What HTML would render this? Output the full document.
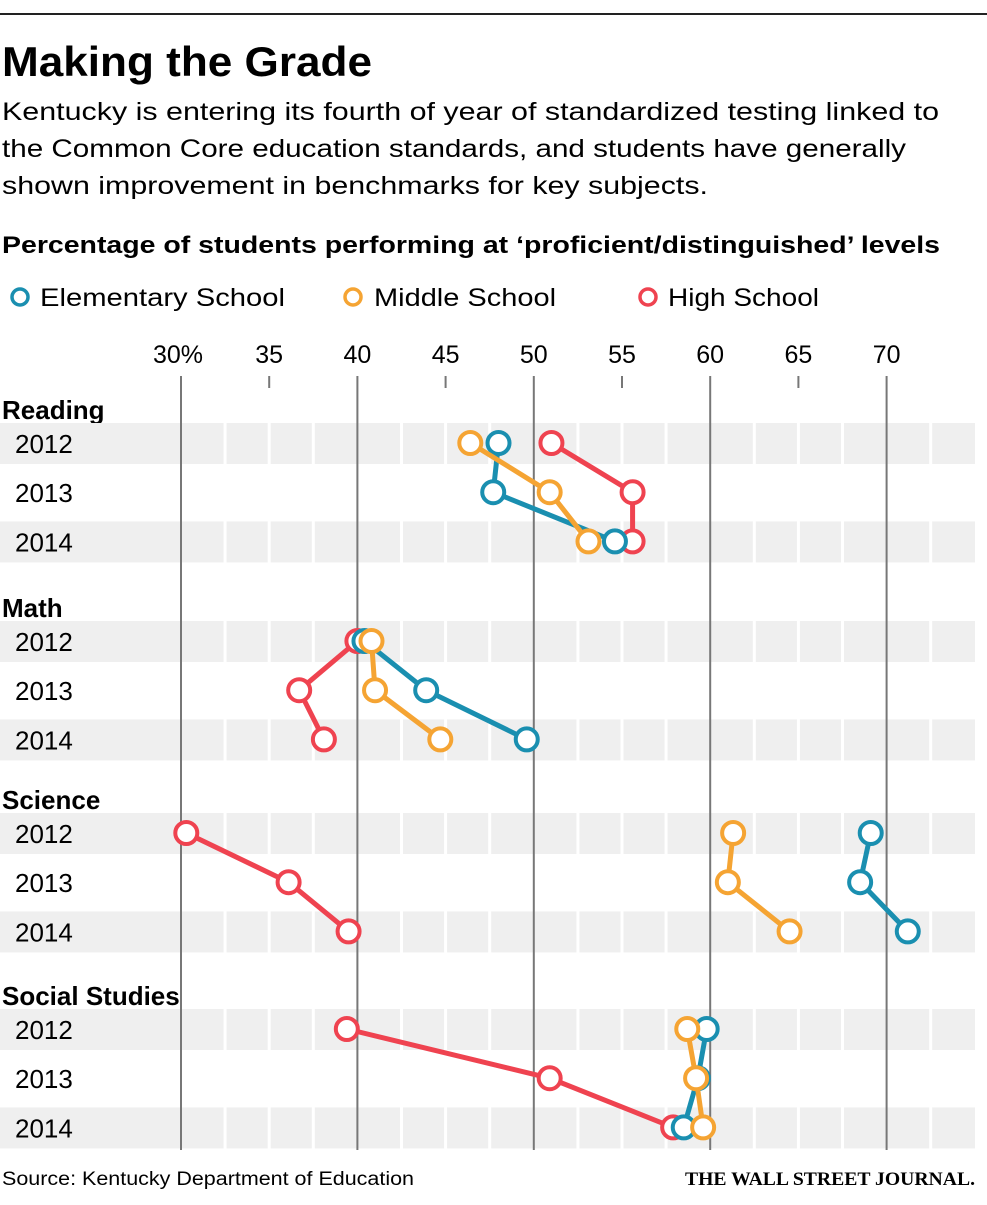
<!DOCTYPE html>
<html><head><meta charset="utf-8"><style>
body{margin:0;background:#fff;width:987px;height:1200px;overflow:hidden;font-family:"Liberation Sans",sans-serif;color:#111}
</style></head><body>
<svg width="987" height="1200" xmlns="http://www.w3.org/2000/svg" id="svg">
<rect x="0" y="13" width="987" height="2" fill="#222"/>
<text x="2" y="76" font-size="42" font-weight="bold" textLength="370" lengthAdjust="spacingAndGlyphs">Making the Grade</text>
<text x="2" y="120" font-size="25" textLength="937" lengthAdjust="spacingAndGlyphs">Kentucky is entering its fourth of year of standardized testing linked to</text>
<text x="2" y="157" font-size="25" textLength="904" lengthAdjust="spacingAndGlyphs">the Common Core education standards, and students have generally</text>
<text x="2" y="194" font-size="25" textLength="706" lengthAdjust="spacingAndGlyphs">shown improvement in benchmarks for key subjects.</text>
<text x="2" y="253" font-size="24" font-weight="bold" textLength="938" lengthAdjust="spacingAndGlyphs">Percentage of students performing at ‘proficient/distinguished’ levels</text>
<g>
<circle cx="20" cy="297" r="8" fill="#fff" stroke="#1a8fb0" stroke-width="3.5"/>
<text x="40" y="306" font-size="25" textLength="245" lengthAdjust="spacingAndGlyphs">Elementary School</text>
<circle cx="353" cy="297" r="8" fill="#fff" stroke="#f5a433" stroke-width="3.5"/>
<text x="374" y="306" font-size="25" textLength="182" lengthAdjust="spacingAndGlyphs">Middle School</text>
<circle cx="648" cy="297" r="8" fill="#fff" stroke="#ef4350" stroke-width="3.5"/>
<text x="668" y="306" font-size="25" textLength="151" lengthAdjust="spacingAndGlyphs">High School</text>
</g>
<g id="plot"></g>
<text x="2" y="1185" font-size="19" textLength="412" lengthAdjust="spacingAndGlyphs">Source: Kentucky Department of Education</text>
<text x="975" y="1185" font-size="19" font-family="Liberation Serif,serif" font-weight="bold" text-anchor="end" textLength="290" lengthAdjust="spacingAndGlyphs">THE WALL STREET JOURNAL.</text>
</svg>
<script>
const subjects=["Reading","Math","Science","Social Studies"];
const years=["2012","2013","2014"];
const elementary=[[48.0,47.7,54.6],[40.4,43.9,49.6],[69.1,68.5,71.2],[59.8,59.3,58.5]];
const middle=[[46.4,50.9,53.1],[40.8,41.0,44.7],[61.3,61.0,64.5],[58.7,59.2,59.6]];
const high=[[51.0,55.6,55.6],[40.0,36.7,38.1],[30.3,36.1,39.5],[39.4,50.9,57.9]];
const tickValues=[30,35,40,45,50,55,60,65,70];
const tickLabels=["30%","35","40","45","50","55","60","65","70"];
const NS="http://www.w3.org/2000/svg";
const g=document.getElementById("plot");
const x=v=>181+(v-30)*17.64;
const groupTop=[443,641,833,1029];
const y=(s,i)=>groupTop[s]+i*49.2;
function mk(t,a,p){const e=document.createElementNS(NS,t);for(const k in a)e.setAttribute(k,a[k]);(p||g).appendChild(e);return e;}
subjects.forEach((s,si)=>{
  const lab=mk("text",{x:2,y:groupTop[si]-24,"font-size":26,"font-weight":"bold"});
  
  
  lab.textContent=s;
  years.forEach((yr,yi)=>{
    if(yi!==1){
      const r=mk("rect",{x:0,y:y(si,yi)-20,width:975,height:41,fill:"#efefef"});
      
      
    }
    const t=mk("text",{x:15,y:y(si,yi)+10,"font-size":26});
    
    
    t.textContent=yr;
  });
});
for(let v=32.5;v<=72.5;v+=2.5){
  if(v%10===0)continue;
  const l=mk("line",{x1:x(v),x2:x(v),y1:400,y2:1150,stroke:"#fff","stroke-width":3});
  
  
}
tickValues.forEach((v,i)=>{
  const t=mk("text",{x:x(v)+(i===0?-3:0),y:363,"font-size":25,"text-anchor":"middle"});
  
  
  t.textContent=tickLabels[i];
  const major=v%10===0;
  const l=mk("line",{x1:x(v),x2:x(v),y1:376,y2:major?1150:388,stroke:"#777","stroke-width":2});
  
  
});
const series=[[high,"#ef4350","high"],[elementary,"#1a8fb0","elementary"],[middle,"#f5a433","middle"]];
subjects.forEach((s,si)=>{
  series.forEach(([d,c,n])=>{
    const pts=d[si].map((v,i)=>x(v)+","+y(si,i)).join(" ");
    const pl=mk("polyline",{points:pts,fill:"none",stroke:c,"stroke-width":5});
    
    
    d[si].forEach((v,i)=>{
      const ci=mk("circle",{cx:x(v),cy:y(si,i),r:11,fill:"#fff",stroke:c,"stroke-width":4});
      
      
    });
  });
});
</script>
</body></html>
